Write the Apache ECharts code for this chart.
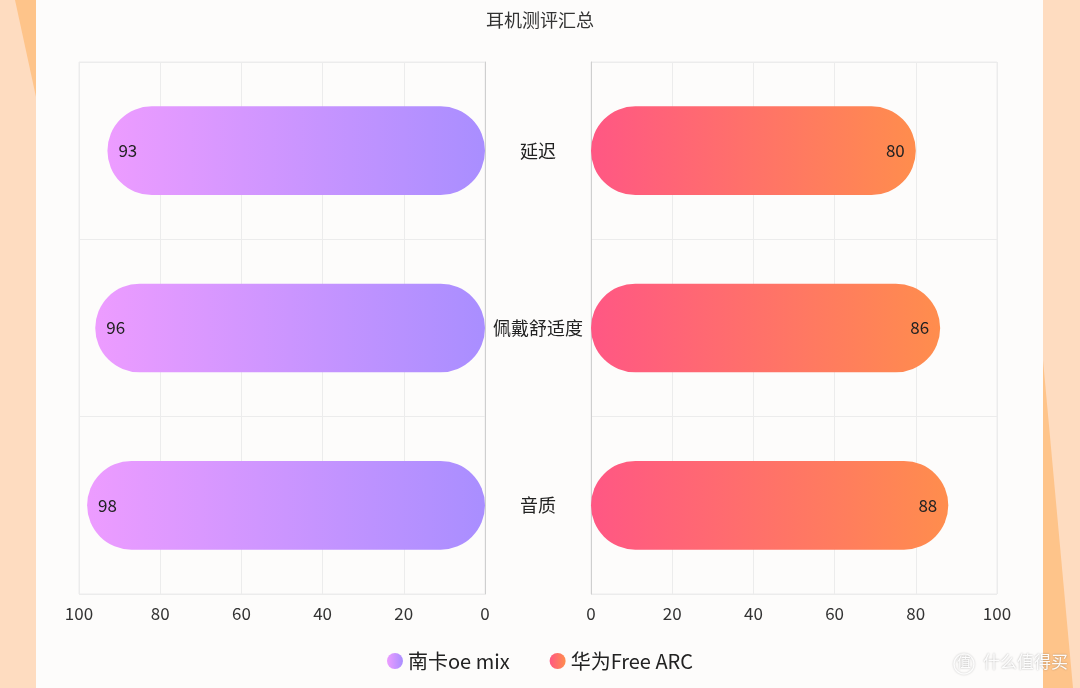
<!DOCTYPE html>
<html>
<head>
<meta charset="utf-8">
<script src="https://cdn.jsdelivr.net/npm/echarts@6/dist/echarts.min.js"></script>
<style>
  html, body { margin: 0; padding: 0; background: #fdfcfb; }
  #chart { width: 1080px; height: 688px; }
</style>
</head>
<body>
<div id="chart"></div>
<script>
(function() {
const categories = ['延迟', '佩戴舒适度', '音质'];
const nankaValues = [93, 96, 98];
const huaweiValues = [80, 86, 88];
const seriesNames = ['南卡oe mix', '华为Free ARC'];
const font = '"Noto Sans CJK SC", "Noto Sans", sans-serif';

const splitStyle = { show: true, lineStyle: { color: '#ececec' } };

const option = {
    backgroundColor: '#fdfcfb',
    textStyle: { fontFamily: font },
    title: {
        text: '耳机测评汇总',
        left: 'center',
        top: 6,
        textStyle: { fontSize: 18, fontWeight: 'normal', color: '#333', fontFamily: font }
    },
    legend: {
        data: seriesNames,
        bottom: 12,
        left: 'center',
        icon: 'circle',
        itemWidth: 16,
        itemHeight: 16,
        itemGap: 40,
        textStyle: { fontSize: 20, color: '#222', fontFamily: font }
    },
    graphic: [
        { type: 'rect', shape: { x: 0, y: 0, width: 36, height: 688 }, style: { fill: '#fedcc0' }, silent: true },
        { type: 'polygon', shape: { points: [[15, 0], [36, 0], [36, 97]] }, style: { fill: '#fec48a' }, silent: true },
        { type: 'rect', shape: { x: 1043, y: 0, width: 37, height: 688 }, style: { fill: '#fedcc0' }, silent: true },
        { type: 'polygon', shape: { points: [[1043, 360], [1073, 688], [1043, 688]] }, style: { fill: '#fec48a' }, silent: true },
        { type: 'circle', shape: { cx: 964, cy: 664, r: 10 }, style: { fill: 'none', stroke: 'rgba(255,255,255,0.9)', lineWidth: 1.5, shadowColor: 'rgba(0,0,0,0.25)', shadowBlur: 2 }, silent: true },
        { type: 'text', x: 957, y: 655, style: { text: '值', fill: 'rgba(255,255,255,0.95)', fontSize: 14, fontFamily: font, textShadowColor: 'rgba(0,0,0,0.35)', textShadowBlur: 2 }, silent: true },
        { type: 'text', x: 983, y: 653, style: { text: '什么值得买', fill: 'rgba(255,255,255,0.95)', fontSize: 17, fontFamily: font, textShadowColor: 'rgba(0,0,0,0.35)', textShadowBlur: 2 }, silent: true }
    ],
    grid: [
        { left: 79, right: 595, top: 62, bottom: 94, show: true, borderColor: '#ececec', borderWidth: 1 },
        { left: 591, right: 83, top: 62, bottom: 94, show: true, borderColor: '#ececec', borderWidth: 1 }
    ],
    xAxis: [
        {
            gridIndex: 0, type: 'value', inverse: true, min: 0, max: 100, interval: 20,
            axisLine: { show: false }, axisTick: { show: false },
            axisLabel: { color: '#333', fontSize: 17, margin: 11, fontFamily: font },
            splitLine: splitStyle
        },
        {
            gridIndex: 1, type: 'value', min: 0, max: 100, interval: 20,
            axisLine: { show: false }, axisTick: { show: false },
            axisLabel: { color: '#333', fontSize: 17, margin: 11, fontFamily: font },
            splitLine: splitStyle
        }
    ],
    yAxis: [
        {
            gridIndex: 0, type: 'category', data: categories, inverse: true, position: 'right',
            axisLine: { show: true, lineStyle: { color: '#cfcfcf' } },
            axisTick: { show: false },
            axisLabel: { color: '#222', fontSize: 18, margin: 53, align: 'center', fontFamily: font },
            splitLine: splitStyle
        },
        {
            gridIndex: 1, type: 'category', data: categories, inverse: true,
            axisLine: { show: true, lineStyle: { color: '#cfcfcf' } },
            axisTick: { show: false },
            axisLabel: { show: false },
            splitLine: splitStyle
        }
    ],
    series: [
        {
            name: seriesNames[0],
            type: 'bar',
            xAxisIndex: 0, yAxisIndex: 0,
            data: nankaValues,
            barWidth: '50%',
            itemStyle: {
                borderRadius: 50,
                color: new echarts.graphic.LinearGradient(0, 0, 1, 0, [
                    { offset: 0, color: '#ed9cff' },
                    { offset: 1, color: '#a98eff' }
                ])
            },
            label: { show: true, position: 'insideLeft', distance: 11, color: '#222', fontSize: 17, fontFamily: font }
        },
        {
            name: seriesNames[1],
            type: 'bar',
            xAxisIndex: 1, yAxisIndex: 1,
            data: huaweiValues,
            barWidth: '50%',
            itemStyle: {
                borderRadius: 50,
                color: new echarts.graphic.LinearGradient(0, 0, 1, 0, [
                    { offset: 0, color: '#ff5784' },
                    { offset: 1, color: '#ff8d4d' }
                ])
            },
            label: { show: true, position: 'insideRight', distance: 11, color: '#222', fontSize: 17, fontFamily: font }
        }
    ]
};

const chart = echarts.init(document.getElementById('chart'));
chart.setOption(option);
window.addEventListener('resize', () => chart.resize());
})();
</script>
</body>
</html>
